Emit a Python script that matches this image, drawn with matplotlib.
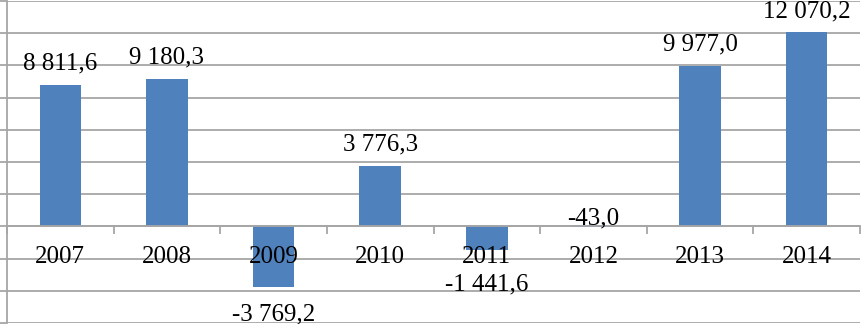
import matplotlib
matplotlib.use('Agg')
import matplotlib.pyplot as plt
import numpy as np

# years and values
years = ['2007', '2008', '2009', '2010', '2011', '2012', '2013', '2014']
values = [8811.6, 9180.3, -3769.2, 3776.3, -1441.6, -43.0, 9977.0, 12070.2]

plt.rcParams['font.family'] = ['Liberation Serif', 'DejaVu Serif']
fs = 18

def fmt(v):
    s = '{:,.1f}'.format(v)
    return s.replace(',', ' ').replace('.', ',')

fig = plt.figure(figsize=(8.63, 3.24), dpi=100)
ax = fig.add_axes([7/863, 1/324, 853/863, 322/324])

x = np.arange(len(years))
bars = ax.bar(x, values, width=0.39, color='#4F81BD', zorder=2)

ax.set_xlim(-0.5, len(years) - 0.5)
ax.set_ylim(-6000, 14000)
ax.set_yticks(np.arange(-6000, 14001, 2000))
ax.set_yticklabels([])
ax.yaxis.grid(True, color='#A6A6A6', linewidth=1.3, zorder=0)
ax.tick_params(axis='y', length=7, color='#A6A6A6', width=1.3)

# category axis sits on zero
ax.spines['bottom'].set_position(('data', 0))
ax.spines['bottom'].set_color('#A6A6A6')
ax.spines['bottom'].set_linewidth(1.3)
ax.spines['bottom'].set_zorder(3)
ax.spines['left'].set_color('#A6A6A6')
ax.spines['left'].set_linewidth(1.3)
ax.spines['top'].set_visible(False)
ax.spines['right'].set_visible(False)

ax.set_xticks(np.arange(-0.5, len(years), 1.0))
ax.set_xticklabels([])
ax.tick_params(axis='x', length=6, color='#A6A6A6', width=1.3, direction='out')

# category names drawn on top of the bars
for xi, yr in zip(x, years):
    ax.annotate(yr, (xi, 0), xytext=(0, -20), textcoords='offset pixels',
                ha='center', va='top', fontsize=fs, zorder=5)

# data labels
for xi, v in zip(x, values):
    if v < -1000:
        off = -16 if v < -3000 else -24
        ax.annotate(fmt(v), (xi, v), xytext=(0, off), textcoords='offset pixels',
                    ha='center', va='top', fontsize=fs, zorder=5)
    elif v < 0:
        ax.annotate(fmt(v), (xi, 0), xytext=(0, 2), textcoords='offset pixels',
                    ha='center', va='baseline', fontsize=fs, zorder=5)
    else:
        ax.annotate(fmt(v), (xi, v), xytext=(0, 15), textcoords='offset pixels',
                    ha='center', va='baseline', fontsize=fs, zorder=5)

fig.savefig('out.png', dpi=100)
